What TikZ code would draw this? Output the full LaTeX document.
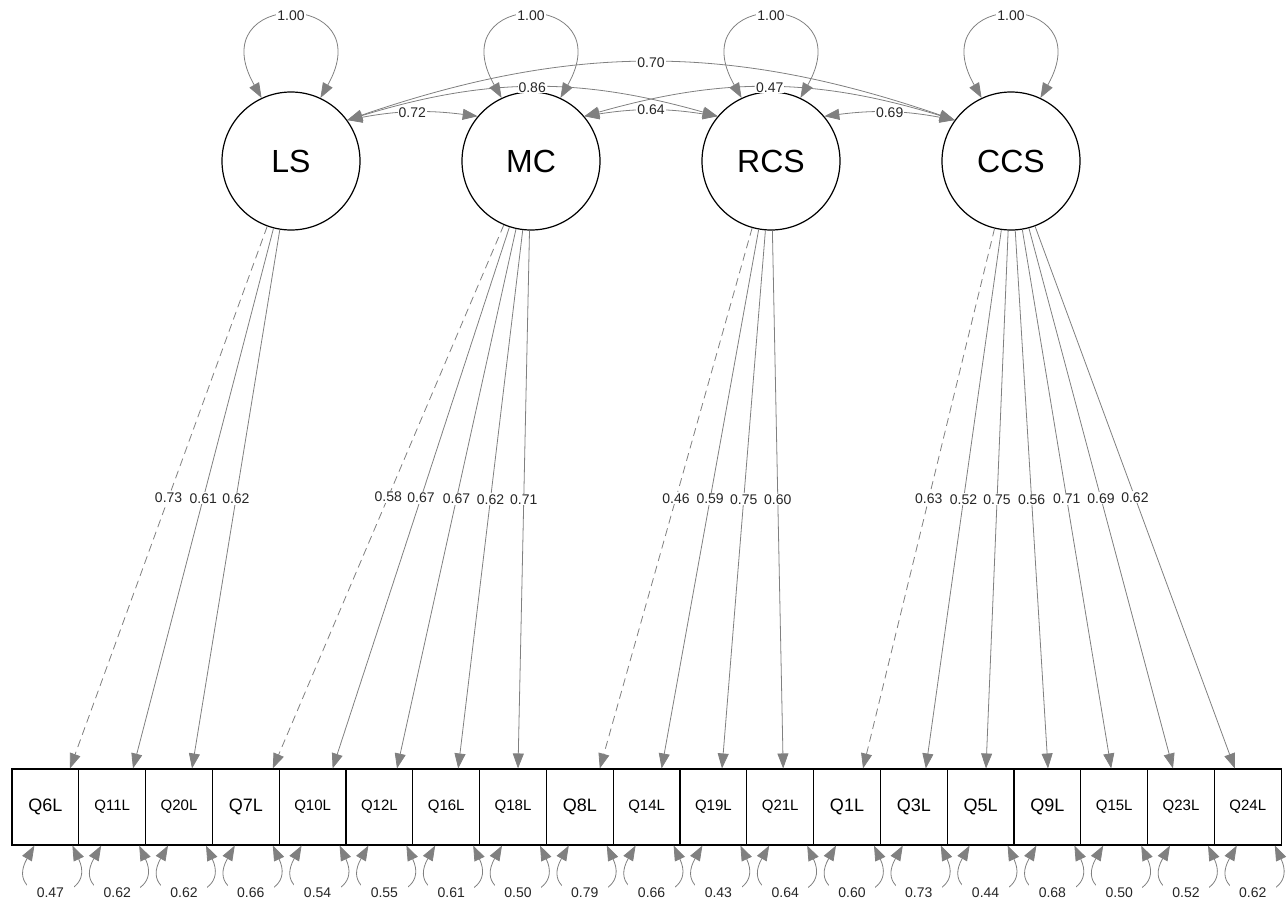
\documentclass[tikz,border=0pt]{standalone}
\usepackage{fontspec}
\setmainfont{Liberation Sans}
\usetikzlibrary{arrows.meta}
\definecolor{edgegray}{RGB}{128,128,128}
\tikzstyle{latent} = [circle, draw, line width=1.2pt, minimum size=138pt, inner sep=0pt,
  font=\fontsize{32}{36}\selectfont]
\tikzstyle{manifest} = [rectangle, draw, line width=1.1pt, minimum width=66.8pt,
  minimum height=76pt, inner sep=0pt]
\tikzstyle{shortname} = [font=\fontsize{18}{20}\selectfont]
\tikzstyle{longname} = [font=\fontsize{15}{17}\selectfont]
\tikzstyle{lab} = [fill=white, text=black!85, inner sep=1pt, font=\fontsize{14}{16}\selectfont]
\tikzstyle{reslab} = [lab, inner xsep=9.5pt, inner ysep=7pt]
\tikzstyle{loading} = [draw, edgegray, line width=0.8pt, ->]
\tikzstyle{fixedload} = [dash pattern=on 8pt off 5pt]
\tikzstyle{freeload} = []
\tikzstyle{covar} = [draw, edgegray, line width=0.8pt, <->]
\tikzstyle{varloop} = [draw, edgegray, line width=0.8pt, <->]
\tikzstyle{resid} = [draw, edgegray, line width=0.8pt, <->]

\begin{document}
\begin{tikzpicture}[x=1pt, y=1pt, >={Triangle[length=15pt,width=11pt]}]
    \useasboundingbox (0,0) rectangle (1288,-902);

    % latent variables
    \node[latent] (LS) at (291,-161) {LS};
    \node[latent, right of=LS, node distance=240pt] (MC) {MC};
    \node[latent, right of=MC, node distance=240pt] (RCS) {RCS};
    \node[latent, right of=RCS, node distance=240pt] (CCS) {CCS};

    % observed items
    \foreach \obs/\sty [count=\i from 0] in {Q6L/shortname, Q11L/longname, Q20L/longname,
        Q7L/shortname, Q10L/longname, Q12L/longname, Q16L/longname, Q18L/longname,
        Q8L/shortname, Q14L/longname, Q19L/longname, Q21L/longname,
        Q1L/shortname, Q3L/shortname, Q5L/shortname, Q9L/shortname, Q15L/longname,
        Q23L/longname, Q24L/longname}
      \node[manifest, \sty] (\obs) at (45.4+66.8*\i,-807) {\obs};

    % variances of the factors
    \foreach \lat in {LS,MC,RCS,CCS}
      \path[varloop] (\lat.115) .. controls +(-62,109) and +(62,109) .. (\lat.65)
        node[lab, pos=.5] (v\lat) {1.00};

    % factor covariances
    \path[covar] (LS.36) to[bend left=9] node[lab] (c12) {0.72} (MC.140);
    \path[covar] (MC.40) to[bend left=9] node[lab] (c23) {0.64} (RCS.140);
    \path[covar] (RCS.40) to[bend left=9] node[lab] (c34) {0.69} (CCS.144);
    \path[covar] (LS.36) to[bend left=16.5] node[lab] (c13) {0.86} (RCS.140);
    \path[covar] (MC.40) to[bend left=16.5] node[lab] (c24) {0.47} (CCS.144);
    \path[covar] (LS.36) to[bend left=19] node[lab] (c14) {0.70} (CCS.144);

    % loadings
    \foreach \lat/\obs/\dx/\val/\sty in {LS/Q6L/24.6/0.73/fixedload, LS/Q11L/20.8/0.61/freeload,
        LS/Q20L/13/0.62/freeload, MC/Q7L/27/0.58/fixedload, MC/Q10L/20/0.67/freeload,
        MC/Q12L/17.6/0.67/freeload, MC/Q16L/12/0.62/freeload, MC/Q18L/5/0.71/freeload,
        RCS/Q8L/20/0.46/fixedload, RCS/Q14L/15/0.59/freeload, RCS/Q19L/8.6/0.75/freeload,
        RCS/Q21L/3/0.60/freeload, CCS/Q1L/16/0.63/fixedload, CCS/Q3L/12/0.52/freeload,
        CCS/Q5L/5.4/0.75/freeload, CCS/Q9L/0.6/0.56/freeload, CCS/Q15L/-3/0.71/freeload,
        CCS/Q23L/-8/0.69/freeload, CCS/Q24L/-13/0.62/freeload}
      \path[loading, \sty] (\lat) -- ([xshift=\dx pt]\obs.north) node[lab, pos=.5] (l\obs) {\val};

    % residual variances
    \foreach \obs/\val in {Q6L/0.47, Q11L/0.62, Q20L/0.62, Q7L/0.66, Q10L/0.54, Q12L/0.55,
        Q16L/0.61, Q18L/0.50, Q8L/0.79, Q14L/0.66, Q19L/0.43, Q21L/0.64, Q1L/0.60,
        Q3L/0.73, Q5L/0.44, Q9L/0.68, Q15L/0.50, Q23L/0.52, Q24L/0.62} {
      \path[resid] ([xshift=-11pt]\obs.south) .. controls +(-34,-60) and +(28,-60)
        .. ([xshift=27pt]\obs.south);
      \node[reslab] (r\obs) at ([xshift=5pt, yshift=-47pt]\obs.south) {\val};
    }
\end{tikzpicture}
\end{document}
